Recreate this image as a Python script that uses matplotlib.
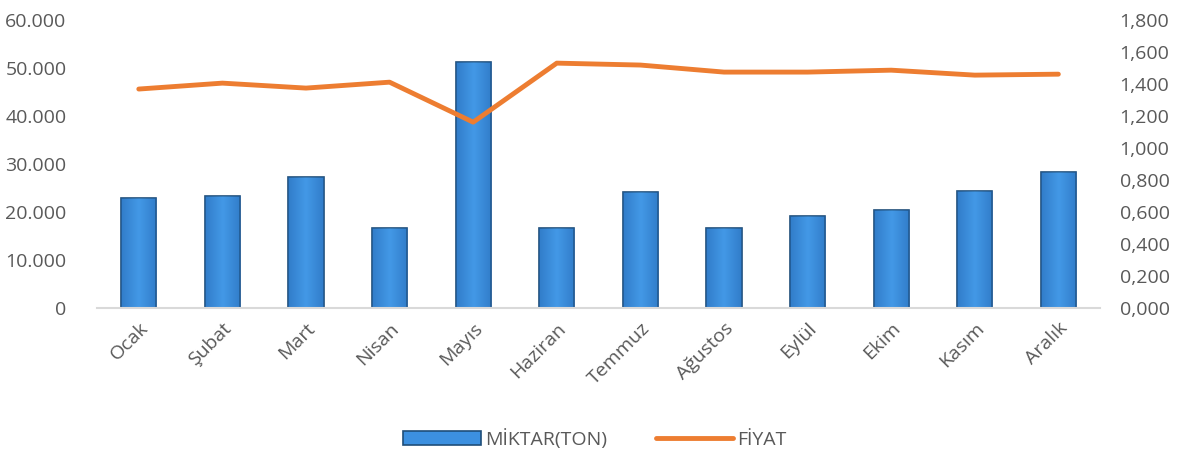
import numpy as np
import matplotlib.pyplot as plt
from matplotlib.ticker import FuncFormatter

aylar = ['Ocak', 'Şubat', 'Mart', 'Nisan', 'Mayıs', 'Haziran', 'Temmuz',
         'Ağustos', 'Eylül', 'Ekim', 'Kasım', 'Aralık']
miktar = [22900, 23300, 27300, 16700, 51200, 16700, 24200, 16700, 19200, 20400, 24400, 28300]
fiyat = [1.369, 1.406, 1.375, 1.412, 1.162, 1.531, 1.519, 1.475, 1.475, 1.487, 1.456, 1.462]

plt.rcParams['font.family'] = ['Open Sans', 'DejaVu Sans']
gray = '#595959'

fig = plt.figure(figsize=(11.9, 4.57), dpi=100)
ax = fig.add_axes([0.0815, 0.326, 0.843, 0.63])
ax2 = ax.twinx()

x = np.arange(len(aylar))
bars = ax.bar(x, miktar, width=0.42, color='#3C90E0', edgecolor='#1F4E79',
              linewidth=1.2, label='MİKTAR(TON)', zorder=2)

# light gradient inside each bar
grad = np.linspace(0, 1, 50).reshape(1, -1)
grad = np.abs(grad - 0.5) * 2
cmap = plt.matplotlib.colors.LinearSegmentedColormap.from_list('g', ['#4CA2EE', '#2566AE'])
for b in bars:
    bx, by = b.get_x(), b.get_y()
    w, h = b.get_width(), b.get_height()
    im = ax.imshow(grad, extent=[bx, bx + w, by, by + h], aspect='auto',
                   cmap=cmap, alpha=0.45, zorder=2.5)
    im.set_clip_path(b)

ax2.plot(x, fiyat, color='#ED7D31', linewidth=3.5, label='FİYAT',
         solid_joinstyle='round', solid_capstyle='round')

ax.set_xlim(-0.5, len(aylar) - 0.5)
ax.set_ylim(0, 60000)
ax2.set_ylim(0, 1.8)
ax.set_yticks(np.arange(0, 60001, 10000))
ax2.set_yticks(np.arange(0, 1.81, 0.2))
ax.yaxis.set_major_formatter(FuncFormatter(lambda v, p: '0' if v == 0 else f'{v:,.0f}'.replace(',', '.')))
ax2.yaxis.set_major_formatter(FuncFormatter(lambda v, p: f'{v:.3f}'.replace('.', ',')))

ax.set_xticks(x)
ax.set_xticklabels(aylar, rotation=45, ha='right', rotation_mode='anchor')

for a in (ax, ax2):
    for s in a.spines.values():
        s.set_visible(False)
    a.tick_params(length=0, labelsize=14, colors=gray)
ax.spines['bottom'].set_visible(True)
ax.spines['bottom'].set_color('#D9D9D9')
ax.spines['bottom'].set_linewidth(1.5)
ax.tick_params(axis='y', pad=22)
ax2.tick_params(axis='y', pad=14)
ax.tick_params(axis='x', pad=8)

h1, l1 = ax.get_legend_handles_labels()
h2, l2 = ax2.get_legend_handles_labels()
fig.legend(h1 + h2, l1 + l2, loc='lower center', bbox_to_anchor=(0.5, -0.02),
           ncol=2, frameon=False, fontsize=14, labelcolor=gray,
           handlelength=4, columnspacing=2.5, handletextpad=0.2)

fig.savefig('out.png', dpi=100)
